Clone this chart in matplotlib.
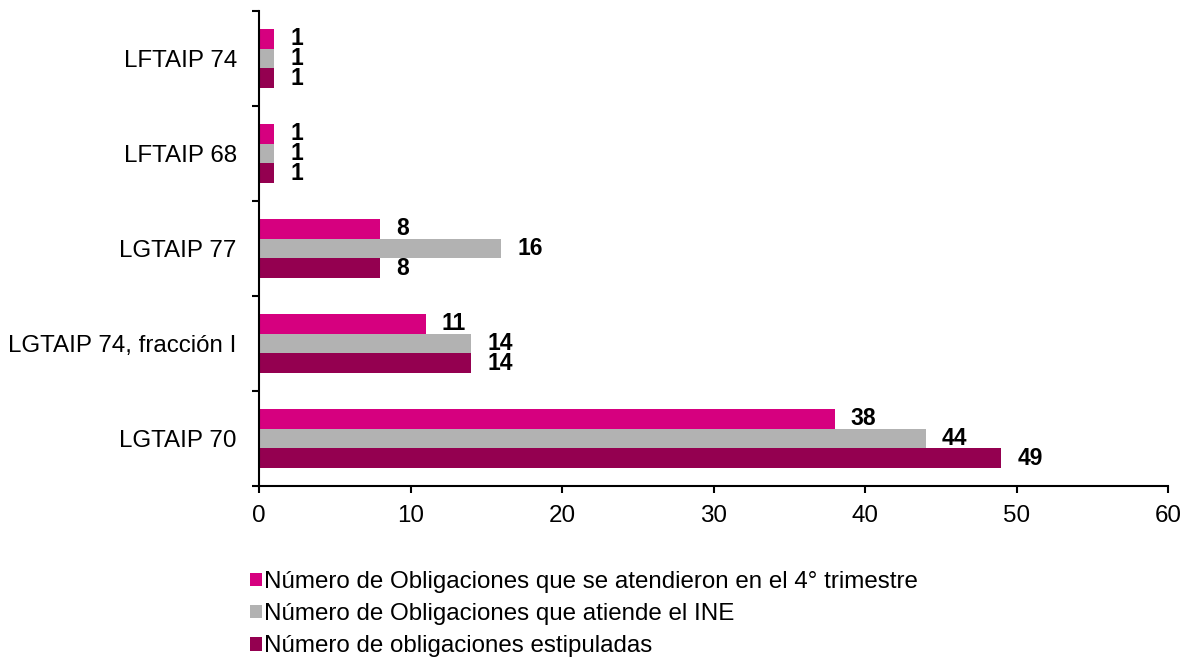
import matplotlib
matplotlib.use("Agg")
import matplotlib.pyplot as plt
from matplotlib.patches import Patch
import numpy as np

categories = ["LFTAIP 74", "LFTAIP 68", "LGTAIP 77", "LGTAIP 74, fracción I", "LGTAIP 70"]
atendidas_4t = [1, 1, 8, 11, 38]
atiende_ine = [1, 1, 16, 14, 44]
estipuladas = [1, 1, 8, 14, 49]
series_names = ["Número de Obligaciones que se atendieron en el 4° trimestre",
                "Número de Obligaciones que atiende el INE",
                "Número de obligaciones estipuladas"]
colors = ["#D6007F", "#B2B2B2", "#940050"]
xticks = [0, 10, 20, 30, 40, 50, 60]

plt.rcParams['font.family'] = ['Liberation Sans', 'DejaVu Sans']
FS = 17.4

fig = plt.figure(figsize=(11.83, 6.58), dpi=100)
ax = fig.add_axes([259/1183, 1-486/658, (1168-259)/1183, (486-11)/658])

y = np.arange(len(categories))
h = 0.21
series = [atendidas_4t, atiende_ine, estipuladas]
offsets = [-h, 0, h]
for vals, off, col in zip(series, offsets, colors):
    bars = ax.barh(y + off, vals, height=h, color=col, edgecolor='none')
    for b, v in zip(bars, vals):
        ax.annotate(str(v), (b.get_width(), b.get_y() + b.get_height()/2),
                    xytext=(11.5, 0), textcoords='offset points',
                    ha='left', va='center', fontsize=16.5, fontweight='bold')

ax.set_ylim(len(categories) - 0.5, -0.5)
ax.set_xlim(0, 60)
ax.set_xticks(xticks)
ax.set_yticks(y)
ax.set_yticklabels(categories)
ax.set_yticks(np.arange(-0.5, len(categories), 1), minor=True)
ax.tick_params(axis='y', which='major', length=0, pad=16, labelsize=FS)
ax.tick_params(axis='y', which='minor', length=5, width=1.5, direction='out')
ax.tick_params(axis='x', length=5, width=1.5, labelsize=FS, pad=9)
for s in ['top', 'right']:
    ax.spines[s].set_visible(False)
for s in ['left', 'bottom']:
    ax.spines[s].set_linewidth(1.5)

handles = [Patch(facecolor=c, edgecolor='none') for c in colors]
fig.legend(handles, series_names, loc='upper left',
           bbox_to_anchor=(250/1183, 1-571/658), frameon=False,
           fontsize=FS, handlelength=0.5, handleheight=0.5,
           handletextpad=0.1, labelspacing=0.42, borderpad=0, borderaxespad=0)

fig.savefig("out.png", dpi=100)
